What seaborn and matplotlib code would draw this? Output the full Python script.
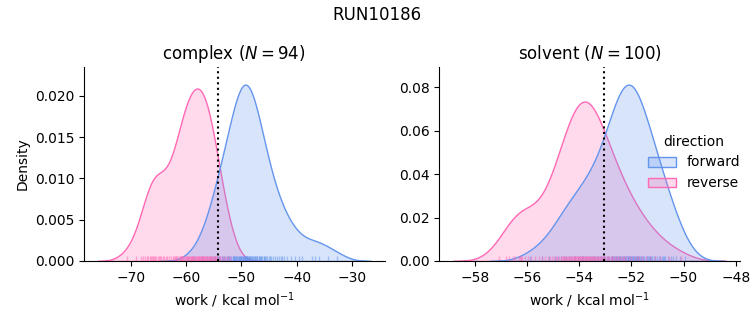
import matplotlib
matplotlib.use("Agg")
import matplotlib.pyplot as plt
import seaborn as sns
import pandas as pd

complex_forward = [
    -58.6, -57.1, -56.2, -55.7, -55.3, -55.0, -54.7,
    -54.4, -54.2, -54.0, -53.8, -53.6,
    -53.4, -53.2, -53.0, -52.7, -52.5,
    -52.4, -52.2, -52.1, -51.8, -51.6, -51.5,
    -51.4, -51.3, -51.1, -51.0, -50.9, -50.8, -50.6, -50.5,
    -50.4, -50.3, -50.2, -50.1, -50.0, -49.9, -49.8, -49.7, -49.6, -49.5,
    -49.4, -49.3, -49.2, -49.1, -49.05, -48.95, -48.9, -48.8, -48.7, -48.6, -48.5,
    -48.4, -48.3, -48.1, -48.0, -47.9, -47.8, -47.6, -47.5,
    -47.4, -47.2, -47.1, -46.9, -46.8, -46.7, -46.5,
    -46.4, -46.2, -46.0, -45.9, -45.7, -45.5,
    -45.3, -45.0, -44.8, -44.6,
    -44.3, -43.9, -43.6, -43.2, -42.9, -42.6,
    -42.2, -41.7, -41.1, -40.3, -39.6, -39.0,
    -37.2, -36.6, -35.9, -34.4, -32.6,
]
complex_reverse = [
    -70.8, -69.1, -68.2, -67.8, -67.4, -67.1, -66.9, -66.6,
    -66.4, -66.2, -66.0, -65.8, -65.6, -65.4, -65.2, -65.0, -64.8, -64.6,
    -64.3, -64.0, -63.7, -63.4, -63.1, -62.8,
    -62.4, -62.2, -62.0, -61.9, -61.7, -61.6,
    -61.4, -61.2, -61.0, -60.9, -60.8, -60.7, -60.6,
    -60.4, -60.2, -60.0, -59.9, -59.8, -59.7, -59.6, -59.5,
    -59.4, -59.2, -59.1, -59.0, -58.9, -58.8, -58.7, -58.6,
    -58.4, -58.3, -58.2, -58.0, -57.9, -57.8, -57.7, -57.6, -57.5,
    -57.4, -57.3, -57.1, -57.0, -56.9, -56.8, -56.7, -56.6, -56.5,
    -56.4, -56.2, -56.1, -55.9, -55.8, -55.7, -55.6, -55.5,
    -55.4, -55.2, -55.0, -54.8, -54.7, -54.6,
    -54.4, -54.1, -53.9, -53.6, -53.2, -52.8, -52.4, -52.0,
]
solvent_forward = [
    -55.9, -55.45, -55.15, -54.95, -54.8,
    -54.7, -54.6, -54.5, -54.4, -54.3,
    -54.22, -54.15, -54.05, -53.98, -53.9, -53.84, -53.78,
    -53.7, -53.62, -53.55, -53.5, -53.44, -53.38, -53.32, -53.27,
    -53.22, -53.16, -53.1, -53.05, -53.0, -52.95, -52.9, -52.85, -52.8, -52.76,
    -52.73, -52.7, -52.67, -52.64, -52.61, -52.58, -52.55, -52.52, -52.49, -52.46,
    -52.43, -52.4, -52.36, -52.32, -52.28,
    -52.25, -52.23, -52.2, -52.18, -52.15, -52.13, -52.1, -52.08, -52.05, -52.03,
    -52.0, -51.98, -51.95, -51.93, -51.9, -51.87, -51.84, -51.81, -51.78, -51.76,
    -51.73, -51.7, -51.66, -51.62, -51.58, -51.54, -51.5, -51.46, -51.42, -51.38,
    -51.34, -51.3, -51.27, -51.24,
    -51.2, -51.14, -51.08, -51.02, -50.96, -50.9, -50.84, -50.8, -50.76,
    -50.7, -50.6, -50.5, -50.4, -50.3, -50.15, -49.95,
]
solvent_reverse = [
    -57.1, -56.8, -56.7, -56.55, -56.45, -56.3, -56.28, -56.25,
    -56.2, -56.1, -55.95, -55.85, -55.7, -55.55, -55.45, -55.3,
    -55.2, -55.12, -55.05, -54.98, -54.9, -54.84, -54.78,
    -54.72, -54.68, -54.64, -54.6, -54.56, -54.52, -54.48, -54.44, -54.4, -54.36,
    -54.32, -54.28,
    -54.24, -54.21, -54.18, -54.15, -54.12, -54.09, -54.06, -54.03, -54.0, -53.97,
    -53.94, -53.91, -53.88, -53.85, -53.82, -53.79, -53.76,
    -53.73, -53.7, -53.67, -53.64, -53.61, -53.58, -53.55, -53.52, -53.49, -53.46,
    -53.43, -53.4, -53.37, -53.34, -53.3, -53.26,
    -53.22, -53.18, -53.14, -53.1, -53.05, -53.0, -52.95, -52.9, -52.85, -52.8, -52.76,
    -52.7, -52.64, -52.58, -52.52, -52.46, -52.4, -52.34, -52.28,
    -52.2, -52.1, -52.0, -51.9, -51.8,
    -51.7, -51.58, -51.44, -51.3, -51.1, -50.9, -50.55, -50.1,
]

phases = ["complex", "solvent"]
directions = ["forward", "reverse"]
sample_counts = {"complex": 94, "solvent": 100}
free_energy = {"complex": -54.3, "solvent": -53.07}
title = "RUN10186"
palette = {"forward": "cornflowerblue", "reverse": "hotpink"}

series = {
    ("complex", "forward"): complex_forward,
    ("complex", "reverse"): complex_reverse,
    ("solvent", "forward"): solvent_forward,
    ("solvent", "reverse"): solvent_reverse,
}
rows = []
for (phase, direction), values in series.items():
    for v in values:
        rows.append({"phase": phase, "direction": direction, "work": v})
df = pd.DataFrame(rows)

g = sns.displot(
    data=df, x="work", hue="direction", col="phase", kind="kde",
    fill=True, rug=True, rug_kws=dict(alpha=0.5), palette=palette,
    hue_order=directions, col_order=phases,
    facet_kws=dict(sharex=False, sharey=False),
    height=3.25, aspect=1.0,
)

for ax, phase in zip(g.axes.flat, phases):
    ax.axvline(free_energy[phase], color="black", linestyle=":")
    ax.set_title(f"{phase} ($N = {sample_counts[phase]}$)", fontsize=12)
    ax.set_xlabel("work / kcal mol$^{-1}$")
g.axes.flat[0].set_ylabel("Density")

fig = g.figure
fig.set_size_inches(7.53, 3.25)
fig.subplots_adjust(left=0.1116, right=0.9827, bottom=0.197, top=0.794, wspace=0.183)
fig.suptitle(title, fontsize=12)
fig.savefig("out.png", dpi=100)
